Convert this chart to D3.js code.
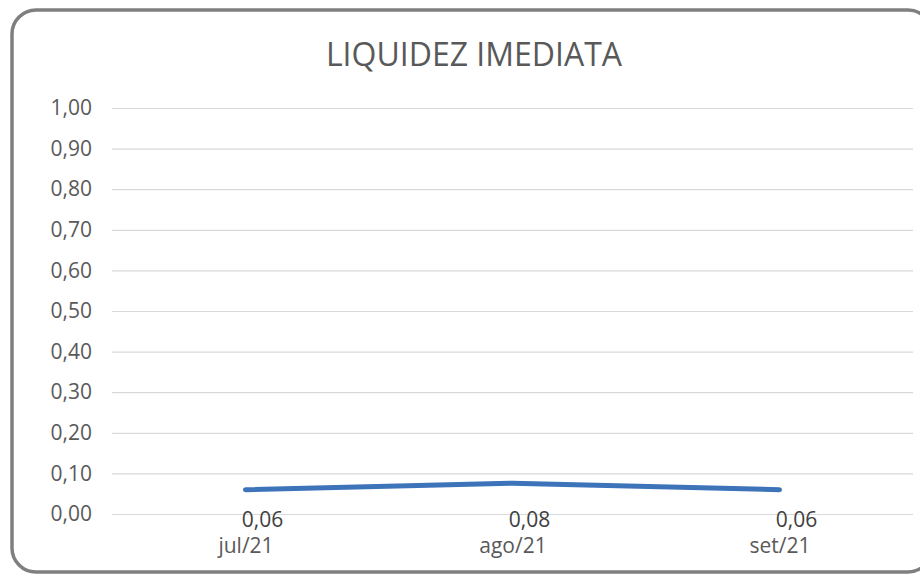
<!DOCTYPE html>
<html><head><meta charset="utf-8">
<script src="https://cdn.jsdelivr.net/npm/d3@7"></script>
<style>
html,body{margin:0;padding:0;background:#fff;}
svg{display:block;font-family:"Open Sans",sans-serif;}
</style></head>
<body>
<svg id="chart" width="920" height="574"></svg>
<script>
const title = "LIQUIDEZ IMEDIATA";
const categories = ["jul/21", "ago/21", "set/21"];
const values = [0.06, 0.076, 0.06];
const valueLabels = ["0,06", "0,08", "0,06"];
const yTicks = [0, 0.1, 0.2, 0.3, 0.4, 0.5, 0.6, 0.7, 0.8, 0.9, 1.0];

const svg = d3.select("#chart");
const W = 920, H = 574;
const m = {left: 112, right: 7, top: 108, bottom: 60};

svg.append("rect").attr("x", 12).attr("y", 10).attr("width", 920).attr("height", 562)
  .attr("rx", 24).attr("ry", 24).attr("fill", "#fff").attr("stroke", "#7f7f7f").attr("stroke-width", 3.5);

const x = d3.scalePoint().domain(categories).range([m.left, W - m.right]).padding(0.5);
const y = d3.scaleLinear().domain([0, 1]).range([H - m.bottom, m.top]);

const fmt = d => d.toFixed(2).replace(".", ",");

const gy = svg.append("g").attr("transform", `translate(${m.left},0)`)
  .call(d3.axisLeft(y).tickValues(yTicks).tickSize(-(W - m.left - m.right)).tickPadding(20).tickFormat(fmt));
gy.select(".domain").remove();
gy.selectAll(".tick line").attr("stroke", "#d9d9d9").attr("stroke-width", 1.2);
gy.selectAll(".tick text").attr("fill", "#595959").attr("font-size", 21).attr("font-family", "Open Sans, sans-serif");

const gx = svg.append("g").attr("transform", `translate(0,${H - m.bottom})`)
  .call(d3.axisBottom(x).tickSize(0).tickPadding(24));
gx.select(".domain").remove();
gx.selectAll(".tick text").attr("fill", "#595959").attr("font-size", 21).attr("font-family", "Open Sans, sans-serif");

svg.append("text").attr("x", 474).attr("y", 66).attr("text-anchor", "middle")
  .attr("fill", "#595959").attr("font-size", 32).text(title);

const line = d3.line().x((d, i) => x(categories[i])).y(d => y(d));
svg.append("path").datum(values).attr("d", line).attr("fill", "none")
  .attr("stroke", "#3d73b9").attr("stroke-width", 5).attr("stroke-linecap", "round");

svg.selectAll(".dl").data(values).enter().append("text").attr("class", "dl")
  .attr("x", (d, i) => x(categories[i]) + 17).attr("y", H - m.bottom + 13)
  .attr("text-anchor", "middle").attr("fill", "#404040").attr("font-size", 21)
  .text((d, i) => valueLabels[i]);
</script>
</body></html>
